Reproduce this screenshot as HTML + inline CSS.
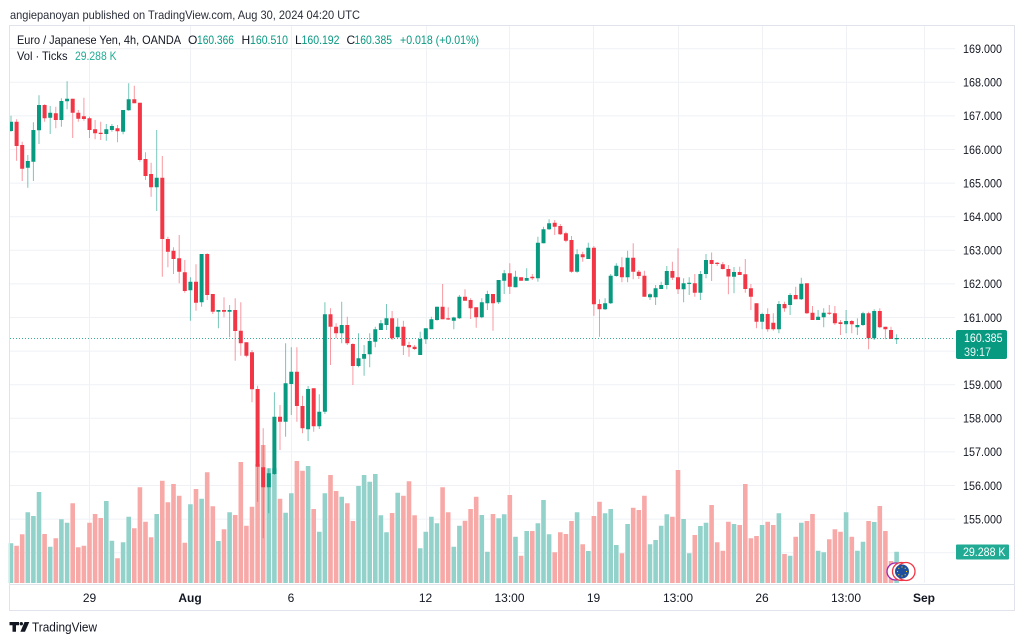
<!DOCTYPE html>
<html><head><meta charset="utf-8"><style>
html,body{margin:0;padding:0;background:#fff;}
svg{display:block;font-family:"Liberation Sans",Arial,sans-serif;}
</style></head><body>
<svg width="1024" height="643" viewBox="0 0 1024 643" xmlns="http://www.w3.org/2000/svg">
<rect x="0" y="0" width="1024" height="643" fill="#fff"/>
<text x="10" y="19" font-size="12" fill="#2a2e39" textLength="350" lengthAdjust="spacingAndGlyphs">angiepanoyan published on TradingView.com, Aug 30, 2024 04:20 UTC</text>
<!-- grid -->
<g stroke="#eff1f5" stroke-width="1">
<path d="M10 48.7H955M10 82.3H955M10 115.9H955M10 149.5H955M10 183.1H955M10 216.7H955M10 250.3H955M10 283.9H955M10 317.5H955M10 351.1H955M10 384.7H955M10 418.3H955M10 451.9H955M10 485.5H955M10 519.1H955M10 552.7H955"/>
<path d="M89.5 26V583M190.5 26V583M291.5 26V583M426.5 26V583M509.5 26V583M593.5 26V583M678.5 26V583M762.5 26V583M846.5 26V583M924.5 26V583"/>
</g>
<!-- volume -->
<path fill="#92d2cb" d="M8.7 543.3h4.6V583h-4.6zM25.5 512.3h4.6V583h-4.6zM31.1 516h4.6V583h-4.6zM36.7 492h4.6V583h-4.6zM47.9 546.7h4.6V583h-4.6zM59.1 519.3h4.6V583h-4.6zM64.8 522.7h4.6V583h-4.6zM104 501h4.6V583h-4.6zM109.6 540.7h4.6V583h-4.6zM120.8 542.3h4.6V583h-4.6zM126.4 516.7h4.6V583h-4.6zM154.4 514h4.6V583h-4.6zM188.1 504.3h4.6V583h-4.6zM199.3 498.7h4.6V583h-4.6zM216.1 541h4.6V583h-4.6zM227.3 512.3h4.6V583h-4.6zM266.5 468.3h4.6V583h-4.6zM272.1 468.3h4.6V583h-4.6zM283.3 512.7h4.6V583h-4.6zM289 493.3h4.6V583h-4.6zM305.8 466h4.6V583h-4.6zM317 531.7h4.6V583h-4.6zM322.6 493.3h4.6V583h-4.6zM339.4 496.7h4.6V583h-4.6zM356.2 486h4.6V583h-4.6zM361.8 475h4.6V583h-4.6zM367.4 481.7h4.6V583h-4.6zM373 474h4.6V583h-4.6zM378.6 515.3h4.6V583h-4.6zM384.2 532.3h4.6V583h-4.6zM395.4 492.7h4.6V583h-4.6zM417.9 548.3h4.6V583h-4.6zM423.5 531.7h4.6V583h-4.6zM429.1 516.7h4.6V583h-4.6zM434.7 523.3h4.6V583h-4.6zM451.5 546.7h4.6V583h-4.6zM457.1 525.7h4.6V583h-4.6zM479.5 515h4.6V583h-4.6zM485.1 551.7h4.6V583h-4.6zM496.3 518.3h4.6V583h-4.6zM501.9 514.3h4.6V583h-4.6zM513.2 536.7h4.6V583h-4.6zM524.4 531h4.6V583h-4.6zM535.6 523.3h4.6V583h-4.6zM541.2 500h4.6V583h-4.6zM546.8 534.3h4.6V583h-4.6zM574.8 512.3h4.6V583h-4.6zM586 551h4.6V583h-4.6zM602.8 513.3h4.6V583h-4.6zM608.4 509h4.6V583h-4.6zM614 545h4.6V583h-4.6zM625.3 524h4.6V583h-4.6zM647.7 544.3h4.6V583h-4.6zM653.3 540h4.6V583h-4.6zM658.9 525.7h4.6V583h-4.6zM664.5 514.3h4.6V583h-4.6zM681.3 519h4.6V583h-4.6zM686.9 553.3h4.6V583h-4.6zM698.1 526h4.6V583h-4.6zM703.7 522.7h4.6V583h-4.6zM731.7 524h4.6V583h-4.6zM759.8 525h4.6V583h-4.6zM776.6 513.3h4.6V583h-4.6zM787.8 555.7h4.6V583h-4.6zM799 522.7h4.6V583h-4.6zM815.8 550.7h4.6V583h-4.6zM821.4 552.3h4.6V583h-4.6zM843.8 512.3h4.6V583h-4.6zM855.1 550.7h4.6V583h-4.6zM860.7 541.7h4.6V583h-4.6zM871.9 522h4.6V583h-4.6zM894.3 551.7h4.6V583h-4.6z"/>
<path fill="#f7a9a7" d="M14.3 545.7h4.6V583h-4.6zM19.9 534.3h4.6V583h-4.6zM42.3 534h4.6V583h-4.6zM53.5 538.3h4.6V583h-4.6zM70.4 503.3h4.6V583h-4.6zM76 547.3h4.6V583h-4.6zM81.6 545.7h4.6V583h-4.6zM87.2 522.7h4.6V583h-4.6zM92.8 514h4.6V583h-4.6zM98.4 518h4.6V583h-4.6zM115.2 558.3h4.6V583h-4.6zM132 528.3h4.6V583h-4.6zM137.6 487.3h4.6V583h-4.6zM143.2 521.7h4.6V583h-4.6zM148.8 537.3h4.6V583h-4.6zM160 480.7h4.6V583h-4.6zM165.6 502.3h4.6V583h-4.6zM171.2 484h4.6V583h-4.6zM176.9 495.7h4.6V583h-4.6zM182.5 542.7h4.6V583h-4.6zM193.7 489h4.6V583h-4.6zM204.9 472.3h4.6V583h-4.6zM210.5 506.3h4.6V583h-4.6zM221.7 529.3h4.6V583h-4.6zM232.9 515h4.6V583h-4.6zM238.5 462h4.6V583h-4.6zM244.1 525.7h4.6V583h-4.6zM249.7 506.7h4.6V583h-4.6zM255.3 464h4.6V583h-4.6zM260.9 445h4.6V583h-4.6zM277.7 498.7h4.6V583h-4.6zM294.6 461h4.6V583h-4.6zM300.2 470.7h4.6V583h-4.6zM311.4 509h4.6V583h-4.6zM328.2 475h4.6V583h-4.6zM333.8 491h4.6V583h-4.6zM345 503.3h4.6V583h-4.6zM350.6 521h4.6V583h-4.6zM389.8 513h4.6V583h-4.6zM401.1 495.7h4.6V583h-4.6zM406.7 481.3h4.6V583h-4.6zM412.3 515.3h4.6V583h-4.6zM440.3 487.3h4.6V583h-4.6zM445.9 512.3h4.6V583h-4.6zM462.7 520.7h4.6V583h-4.6zM468.3 509h4.6V583h-4.6zM473.9 496.7h4.6V583h-4.6zM490.7 514h4.6V583h-4.6zM507.5 495h4.6V583h-4.6zM518.8 555.7h4.6V583h-4.6zM530 531h4.6V583h-4.6zM552.4 552.3h4.6V583h-4.6zM558 532.3h4.6V583h-4.6zM563.6 534h4.6V583h-4.6zM569.2 521h4.6V583h-4.6zM580.4 544.3h4.6V583h-4.6zM591.6 516h4.6V583h-4.6zM597.2 501.7h4.6V583h-4.6zM619.6 553.3h4.6V583h-4.6zM630.9 507.7h4.6V583h-4.6zM636.5 510h4.6V583h-4.6zM642.1 495.7h4.6V583h-4.6zM670.1 516.7h4.6V583h-4.6zM675.7 470h4.6V583h-4.6zM692.5 535h4.6V583h-4.6zM709.3 505h4.6V583h-4.6zM714.9 542.3h4.6V583h-4.6zM720.5 550.7h4.6V583h-4.6zM726.1 521.7h4.6V583h-4.6zM737.4 525h4.6V583h-4.6zM743 484h4.6V583h-4.6zM748.6 538.3h4.6V583h-4.6zM754.2 536h4.6V583h-4.6zM765.4 521.7h4.6V583h-4.6zM771 525h4.6V583h-4.6zM782.2 554h4.6V583h-4.6zM793.4 536.7h4.6V583h-4.6zM804.6 521h4.6V583h-4.6zM810.2 514h4.6V583h-4.6zM827 539.3h4.6V583h-4.6zM832.6 529.3h4.6V583h-4.6zM838.2 531.7h4.6V583h-4.6zM849.5 536.7h4.6V583h-4.6zM866.3 521h4.6V583h-4.6zM877.5 506h4.6V583h-4.6zM883.1 531h4.6V583h-4.6zM888.7 561h4.6V583h-4.6z"/>
<!-- symbol icon -->
<g>
<circle cx="895.5" cy="571.5" r="8.5" fill="#fff" stroke="#9c27b0" stroke-width="1.3"/>
<circle cx="901.5" cy="571.5" r="9" fill="#fff" stroke="#f23645" stroke-width="1.3"/>
<circle cx="906" cy="571.5" r="9" fill="#fff" stroke="#f23645" stroke-width="1.3"/>
<circle cx="902" cy="571.5" r="7" fill="#1f4e9e"/>
<g fill="#ffd500"><circle cx="902" cy="567" r=".6"/><circle cx="902" cy="576" r=".6"/><circle cx="897.5" cy="571.5" r=".6"/><circle cx="906.5" cy="571.5" r=".6"/><circle cx="898.8" cy="568.3" r=".6"/><circle cx="905.2" cy="568.3" r=".6"/><circle cx="898.8" cy="574.7" r=".6"/><circle cx="905.2" cy="574.7" r=".6"/></g>
</g>
<!-- wicks -->
<path fill="none" stroke="#089981" stroke-opacity="0.55" stroke-width="1" d="M11 115.7V131.7M27.8 155V187.7M33.4 122.3V181M39 95.3V144M50.2 106V134M61.4 98.3V126.7M67.1 81.3V109.3M106.3 124V140.7M111.9 124V131.7M123.1 110V134.3M128.7 83.3V110.7M156.7 130V211M190.4 277.3V320.7M201.6 254V306.7M218.4 310V328.3M229.6 305V337.3M268.8 468.3V513.3M274.4 392.3V475M285.6 343.3V436.7M291.3 347.3V415M308.1 386V441M319.3 394.3V429M324.9 302.3V414M341.7 301.7V343.3M358.5 333.3V367.3M364.1 345V375.7M369.7 333.3V367.3M375.3 326.7V347.3M380.9 320V330M386.5 304V330M397.7 318.3V338.3M420.2 331.7V355M425.8 328.3V344M431.4 316.7V329.3M437 306.7V320.7M453.8 316.7V329.3M459.4 295V319M481.8 298.3V318.3M487.4 290.7V310M498.6 280V304M504.2 270V294M515.5 270.7V287.3M526.7 268.3V280.7M537.9 236.7V281.7M543.5 226.7V243.3M549.1 219.3V230M577.1 249.3V272.7M588.3 242.7V259M605.1 298.3V310M610.7 274V304M616.3 263.3V276.7M627.6 250.7V282.3M650 293.3V300M655.6 285V305M661.2 281.7V289M666.8 266V289.3M683.6 278.3V302.3M689.2 277.3V295M700.4 271V300M706 254V278.3M734 267V293.3M762.1 312.7V329.3M778.9 301V333.3M790.1 293.3V315M801.3 277.7V300M818.1 310V320M823.7 308.3V327.3M846.1 310V333.3M857.4 318.3V335M863 311.7V326M874.2 309.3V340M896.6 334.3V344"/>
<path fill="none" stroke="#f23645" stroke-opacity="0.5" stroke-width="1" d="M16.6 119.3V160.7M22.2 141.7V181M44.6 104.3V121.7M55.8 106.7V128.3M72.7 98.7V138M78.3 110V121.7M83.9 97.7V120.7M89.5 116.7V138M95.1 120V139.3M100.7 121.7V140M117.5 125V142.3M134.3 85.7V103.3M139.9 102.7V161.7M145.5 152.3V180M151.1 162.7V196.7M162.3 156V276.7M167.9 236.7V267.3M173.5 247.3V274M179.2 235V283.3M184.8 260V292.7M196 264.3V310.7M207.2 253.3V300M212.8 294V314M224 297.3V317.3M235.2 298.3V360.7M240.8 302.3V355.7M246.4 342.3V357.3M252 350V402.3M257.6 385.7V501.7M263.2 428.3V538.3M280 405V450M296.9 347.3V421.7M302.5 395.7V433.3M313.7 388.3V431.7M330.5 308.3V365M336.1 323.3V338.3M347.3 316.7V345M352.9 343.3V385M392.1 311V340M403.4 320.7V355M409 341.7V356.7M414.6 345V350M442.6 284V319.3M448.2 307.3V320M465 289.3V300.7M470.6 298.3V319M476.2 307.3V327.7M493 294V330.7M509.8 263.3V294M521.1 277.3V280.7M532.3 274V280M554.7 220V235M560.3 224V235M565.9 231.7V242.3M571.5 236V272.7M582.7 251.7V261.7M593.9 246V315.7M599.5 299.3V336.7M621.9 257.3V282.3M633.2 243.3V279.3M638.8 270V279M644.4 270.7V296.7M672.4 261.7V280M678 248.3V294M694.8 274V296.7M711.6 252.5V281M717.2 262V266M722.8 262V269.5M728.4 265V294.2M739.7 266.7V275M745.3 259V292.7M750.9 284V310M756.5 303.3V328.3M767.7 308.3V331.7M773.3 313.3V330.7M784.5 301.7V311.7M795.7 286.7V299.3M806.9 283.3V314M812.5 306V320M829.3 305V315M834.9 306V325M840.5 320V335M851.8 320V333.3M868.6 311.7V349.3M879.8 308.3V328.3M885.4 326.7V339.3M891 326.7V339"/>
<!-- bodies -->
<path fill="#089981" d="M9 121.7h4V131h-4zM25.8 161h4V167.7h-4zM31.4 130h4V161.7h-4zM37 105h4V130.3h-4zM48.2 112.7h4V117.7h-4zM59.4 101h4V120h-4zM65.1 98.7h4V101.3h-4zM104.3 129.3h4V134h-4zM109.9 126h4V130h-4zM121.1 110h4V131.7h-4zM126.7 99.3h4V110.3h-4zM154.7 177.7h4V187.3h-4zM188.4 281.7h4V290.3h-4zM199.6 254h4V302.3h-4zM216.4 310h4V311.7h-4zM227.6 310h4V311.7h-4zM266.8 473.3h4V487.3h-4zM272.4 416.7h4V474h-4zM283.6 383.3h4V421.7h-4zM289.3 371.7h4V384h-4zM306.1 389h4V429.3h-4zM317.3 411.7h4V426.3h-4zM322.9 314.3h4V411.7h-4zM339.7 325h4V333.3h-4zM356.5 358.3h4V366h-4zM362.1 354h4V358.7h-4zM367.7 341h4V354.3h-4zM373.3 329.3h4V341.7h-4zM378.9 323.3h4V330h-4zM384.5 318.3h4V325h-4zM395.7 326.7h4V337.3h-4zM418.2 339h4V355h-4zM423.8 328.3h4V339.3h-4zM429.4 319.3h4V329.3h-4zM435 306.7h4V320h-4zM451.8 317.5h4V320.7h-4zM457.4 296.7h4V318.3h-4zM479.8 302.3h4V317.3h-4zM485.4 294h4V303.3h-4zM496.6 280h4V302.3h-4zM502.2 273.3h4V280.7h-4zM513.5 276.7h4V287.3h-4zM524.7 278h4V280.7h-4zM535.9 242.7h4V278.3h-4zM541.5 229.3h4V243.3h-4zM547.1 223.3h4V229.3h-4zM575.1 254.3h4V271.7h-4zM586.3 247.7h4V259h-4zM603.1 303.3h4V309.3h-4zM608.7 275.7h4V303.3h-4zM614.3 265.7h4V276h-4zM625.6 257.7h4V277.3h-4zM648 294.3h4V297.3h-4zM653.6 288.3h4V297.3h-4zM659.2 285h4V289h-4zM664.8 271h4V285h-4zM681.6 283.3h4V289.3h-4zM687.2 282.7h4V284h-4zM698.4 274h4V292.7h-4zM704 260h4V274h-4zM732 272h4V276.7h-4zM760.1 314h4V321.7h-4zM776.9 304h4V329.3h-4zM788.1 295h4V305h-4zM799.3 283.7h4V299.3h-4zM816.1 316.7h4V320h-4zM821.7 312.7h4V317.3h-4zM844.1 321h4V324.3h-4zM855.4 325h4V327.3h-4zM861 313.3h4V325h-4zM872.2 311h4V338.3h-4zM894.6 338h4V339.2h-4z"/>
<path fill="#f23645" d="M14.6 121.7h4V146h-4zM20.2 145h4V168.7h-4zM42.6 105h4V118.3h-4zM53.8 113.3h4V120h-4zM70.7 98.7h4V112.7h-4zM76.3 112.7h4V118.7h-4zM81.9 116.3h4V119h-4zM87.5 118.3h4V130h-4zM93.1 129.3h4V133.3h-4zM98.7 132.7h4V134h-4zM115.5 128.3h4V131.3h-4zM132.3 99.3h4V103.3h-4zM137.9 102.7h4V160h-4zM143.5 159h4V176h-4zM149.1 174h4V187.3h-4zM160.3 177.7h4V239h-4zM165.9 239h4V251.7h-4zM171.5 250.7h4V259h-4zM177.2 258.3h4V271.7h-4zM182.8 272.3h4V291h-4zM194 281.7h4V302.7h-4zM205.2 254h4V295h-4zM210.8 294h4V311.7h-4zM222 310h4V311.7h-4zM233.2 310h4V331h-4zM238.8 330.7h4V343.3h-4zM244.4 342.3h4V355.7h-4zM250 352.3h4V389.3h-4zM255.6 389h4V466.7h-4zM261.2 467.3h4V487.3h-4zM278 416.7h4V421.7h-4zM294.9 371.7h4V406h-4zM300.5 406h4V428.3h-4zM311.7 388.3h4V426.3h-4zM328.5 314.3h4V326.7h-4zM334.1 326.7h4V333.3h-4zM345.3 325h4V343.3h-4zM350.9 344h4V366h-4zM390.1 318.3h4V338.3h-4zM401.4 326.7h4V345.7h-4zM407 345h4V347.3h-4zM412.6 346.7h4V349h-4zM440.6 306.7h4V319.3h-4zM446.2 318.3h4V319.5h-4zM463 296.7h4V300.7h-4zM468.6 300h4V308.3h-4zM474.2 307.3h4V317.3h-4zM491 294h4V303.3h-4zM507.8 273.3h4V286.7h-4zM519.1 277.3h4V280.7h-4zM530.3 276.7h4V278.3h-4zM552.7 222.7h4V226.7h-4zM558.3 226h4V234.3h-4zM563.9 233.3h4V240.7h-4zM569.5 240h4V271.7h-4zM580.7 254.3h4V257.3h-4zM591.9 247.7h4V304.3h-4zM597.5 304h4V309.3h-4zM619.9 267.3h4V277.3h-4zM631.2 257.7h4V271.7h-4zM636.8 271.7h4V276h-4zM642.4 275.7h4V296.7h-4zM670.4 271h4V277.7h-4zM676 277.3h4V289.3h-4zM692.8 283.3h4V292.7h-4zM709.6 260h4V264h-4zM715.2 262.7h4V264h-4zM720.8 264.3h4V269h-4zM726.4 269h4V276.5h-4zM737.7 272h4V275h-4zM743.3 274.3h4V289h-4zM748.9 288.3h4V296.7h-4zM754.5 303.3h4V321.7h-4zM765.7 314h4V329.3h-4zM771.3 322.7h4V329.3h-4zM782.5 304h4V308.3h-4zM793.7 295h4V299.3h-4zM804.9 283.3h4V313.3h-4zM810.5 312.7h4V320h-4zM827.3 312.7h4V313.7h-4zM832.9 313.3h4V323.3h-4zM838.5 322.3h4V324h-4zM849.8 321h4V324.3h-4zM866.6 313.3h4V338.3h-4zM877.8 311h4V327.3h-4zM883.4 326.7h4V329.3h-4zM889 330h4V339h-4z"/>
<!-- price line -->
<path d="M10 338.5H955" stroke="#089981" stroke-width="1" stroke-dasharray="1 2" stroke-opacity="0.8"/>
<!-- frame -->
<rect x="9.5" y="25.5" width="1005" height="585" fill="none" stroke="#e0e3eb" stroke-width="1"/>
<path d="M10 584.5H1014" stroke="#e0e3eb" stroke-width="1"/>
<!-- legend -->
<g font-size="12">
<text x="17" y="44" fill="#131722" textLength="164" lengthAdjust="spacingAndGlyphs">Euro / Japanese Yen, 4h, OANDA</text>
<text x="188" y="44" fill="#131722">O</text>
<text x="197" y="44" fill="#089981" textLength="37" lengthAdjust="spacingAndGlyphs">160.366</text>
<text x="241.5" y="44" fill="#131722">H</text>
<text x="250" y="44" fill="#089981" textLength="38" lengthAdjust="spacingAndGlyphs">160.510</text>
<text x="295" y="44" fill="#131722">L</text>
<text x="301.5" y="44" fill="#089981" textLength="38" lengthAdjust="spacingAndGlyphs">160.192</text>
<text x="346.5" y="44" fill="#131722">C</text>
<text x="354.5" y="44" fill="#089981" textLength="37.5" lengthAdjust="spacingAndGlyphs">160.385</text>
<text x="400" y="44" fill="#089981" textLength="79" lengthAdjust="spacingAndGlyphs">+0.018 (+0.01%)</text>
<text x="17" y="60" fill="#131722" textLength="50.5" lengthAdjust="spacingAndGlyphs">Vol · Ticks</text>
<text x="75" y="60" fill="#22ab94" textLength="41.5" lengthAdjust="spacingAndGlyphs">29.288 K</text>
</g>
<!-- price axis -->
<g font-size="12" fill="#131722">
<text x="963" y="53" textLength="39" lengthAdjust="spacingAndGlyphs">169.000</text>
<text x="963" y="86.6" textLength="39" lengthAdjust="spacingAndGlyphs">168.000</text>
<text x="963" y="120.2" textLength="39" lengthAdjust="spacingAndGlyphs">167.000</text>
<text x="963" y="153.8" textLength="39" lengthAdjust="spacingAndGlyphs">166.000</text>
<text x="963" y="187.4" textLength="39" lengthAdjust="spacingAndGlyphs">165.000</text>
<text x="963" y="221" textLength="39" lengthAdjust="spacingAndGlyphs">164.000</text>
<text x="963" y="254.6" textLength="39" lengthAdjust="spacingAndGlyphs">163.000</text>
<text x="963" y="288.2" textLength="39" lengthAdjust="spacingAndGlyphs">162.000</text>
<text x="963" y="321.8" textLength="39" lengthAdjust="spacingAndGlyphs">161.000</text>
<text x="963" y="389" textLength="39" lengthAdjust="spacingAndGlyphs">159.000</text>
<text x="963" y="422.6" textLength="39" lengthAdjust="spacingAndGlyphs">158.000</text>
<text x="963" y="456.2" textLength="39" lengthAdjust="spacingAndGlyphs">157.000</text>
<text x="963" y="489.8" textLength="39" lengthAdjust="spacingAndGlyphs">156.000</text>
<text x="963" y="523.4" textLength="39" lengthAdjust="spacingAndGlyphs">155.000</text>
</g>
<rect x="956" y="330" width="51" height="29" rx="2" fill="#089981"/>
<text x="964" y="342" font-size="12" fill="#fff" textLength="38.5" lengthAdjust="spacingAndGlyphs">160.385</text>
<text x="964" y="356" font-size="12" fill="#fff" fill-opacity="0.9" textLength="27" lengthAdjust="spacingAndGlyphs">39:17</text>
<rect x="956" y="544.5" width="53" height="15" rx="1" fill="#22ab94"/>
<text x="963" y="556" font-size="12" fill="#fff" textLength="42.5" lengthAdjust="spacingAndGlyphs">29.288 K</text>
<!-- time axis -->
<g font-size="12" fill="#131722" text-anchor="middle">
<text x="89.5" y="602">29</text>
<text x="190" y="602" font-weight="bold">Aug</text>
<text x="291" y="602">6</text>
<text x="425.5" y="602">12</text>
<text x="509.5" y="602">13:00</text>
<text x="593.5" y="602">19</text>
<text x="678" y="602">13:00</text>
<text x="762" y="602">26</text>
<text x="846" y="602">13:00</text>
<text x="924" y="602" font-weight="bold">Sep</text>
</g>
<!-- TradingView logo -->
<g fill="#131722">
<path d="M9.5 622h9.5v3.3h-3v6.5h-3.5v-6.5h-3z"/>
<circle cx="21.3" cy="623.7" r="1.7"/>
<path d="M24.5 622h4.8l-4.3 9.8h-4.6z"/>
</g>
<text x="32" y="631.5" font-size="13" fill="#131722" textLength="65" lengthAdjust="spacingAndGlyphs">TradingView</text>
</svg>
</body></html>
